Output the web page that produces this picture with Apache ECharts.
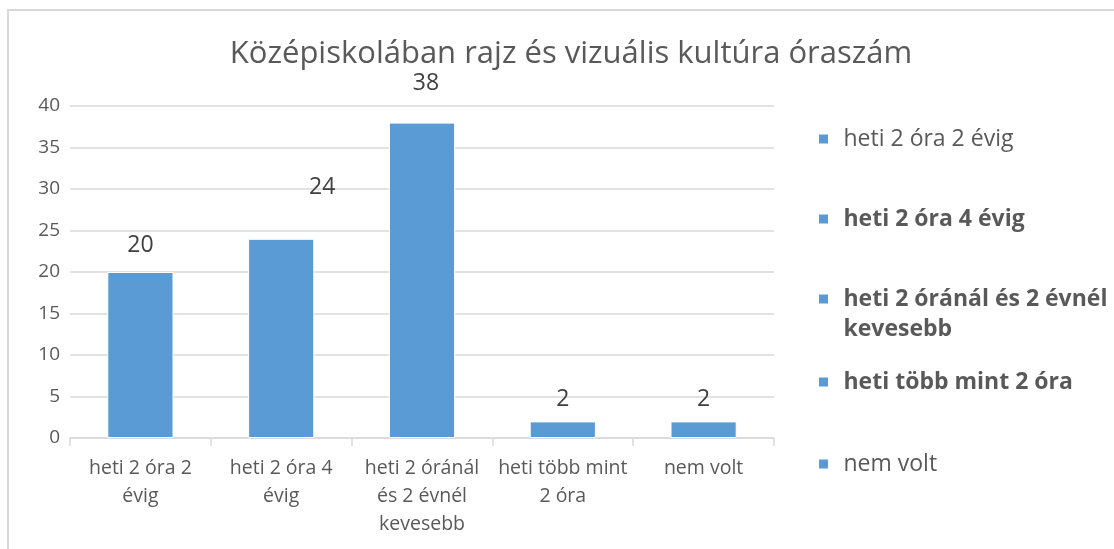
<!DOCTYPE html>
<html>
<head>
<meta charset="utf-8">
<script src="https://cdn.jsdelivr.net/npm/echarts@6/dist/echarts.min.js"></script>
<style>
  html, body { margin: 0; padding: 0; background: #fff; }
  #chart { width: 1114px; height: 549px; }
</style>
</head>
<body>
<div id="chart"></div>
<script>
// Category names (legend) and their wrapped axis tick labels
const categories = [
  'heti 2 óra 2 évig',
  'heti 2 óra 4 évig',
  'heti 2 óránál és 2 évnél kevesebb',
  'heti több mint 2 óra',
  'nem volt'
];
const tickLabels = [
  'heti 2 óra 2\névig',
  'heti 2 óra 4\névig',
  'heti 2 óránál\nés 2 évnél\nkevesebb',
  'heti több mint\n2 óra',
  'nem volt'
];
// leading blank line keeps the marker beside the first line of a wrapped entry
const legendLabels = [
  'heti 2 óra 2 évig',
  'heti 2 óra 4 évig',
  '\nheti 2 óránál és 2 évnél\nkevesebb',
  'heti több mint 2 óra',
  'nem volt'
];
const values = [20, 24, 38, 2, 2];
const yTicks = [0, 5, 10, 15, 20, 25, 30, 35, 40];

const BAR = '#5B9BD5';
const TEXT = '#595959';
const FONT = '"Open Sans", "DejaVu Sans", sans-serif';

// hand-placed data label nudges [dx, dy]
const labelOffsets = [[0, -10], [41, -35], [4, -23], [0, -5], [0, -5]];
const legendRows = [139, 219, 299, 382, 464];
const legendBold = [false, true, true, true, false];

const series = categories.map((name, i) => ({
  name: name,
  type: 'bar',
  stack: 'all',
  barWidth: '47%',
  itemStyle: { color: BAR, borderColor: '#ffffff', borderWidth: 1 },
  label: {
    show: true,
    position: 'top',
    distance: 5,
    offset: labelOffsets[i],
    color: '#404040',
    fontSize: 23,
    fontFamily: FONT
  },
  data: values.map((v, j) => (j === i ? v : '-'))
}));

// square marker centred in a wider slot to leave room before the text
const legends = categories.map((name, i) => ({
  data: [name],
  orient: 'vertical',
  left: 812,
  top: legendRows[i] - (i === 2 ? 50 : 20),
  itemWidth: 30,
  itemHeight: 11,
  icon: 'path://M0,0H10V10H0Z',
  symbolKeepAspect: true,
  itemGap: 0,
  selectedMode: false,
  formatter: () => legendLabels[i],
  textStyle: {
    color: TEXT,
    fontSize: 23,
    fontFamily: FONT,
    fontWeight: legendBold[i] ? 'bold' : 'normal',
    lineHeight: 30
  }
}));

const chart = echarts.init(document.getElementById('chart'), null, { renderer: 'canvas' });
chart.setOption({
  backgroundColor: '#ffffff',
  animation: false,
  title: {
    text: 'Középiskolában rajz és vizuális kultúra óraszám',
    left: 566,
    textAlign: 'center',
    top: 34,
    textStyle: { color: TEXT, fontSize: 31, fontWeight: 'normal', fontFamily: FONT }
  },
  graphic: [{
    type: 'rect',
    shape: { x: 8, y: 10, width: 1200, height: 600 },
    style: { fill: 'none', stroke: '#D9D9D9', lineWidth: 2 },
    silent: true,
    z: -1
  }],
  legend: legends,
  grid: { left: 70, right: 340, top: 106, bottom: 111, containLabel: false },
  xAxis: {
    type: 'category',
    data: tickLabels,
    axisLine: { show: true, lineStyle: { color: '#D9D9D9', width: 1.5 } },
    axisTick: { show: true, length: 8, lineStyle: { color: '#D9D9D9', width: 1.5 } },
    axisLabel: {
      color: TEXT, fontSize: 19.5, fontFamily: FONT,
      lineHeight: 28, margin: 16, interval: 0
    }
  },
  yAxis: {
    type: 'value',
    min: yTicks[0],
    max: yTicks[yTicks.length - 1],
    interval: yTicks[1] - yTicks[0],
    axisLine: { show: false },
    axisTick: { show: false },
    splitLine: { lineStyle: { color: '#D9D9D9', width: 1.5 } },
    axisLabel: { color: TEXT, fontSize: 19, fontFamily: FONT, margin: 10 }
  },
  series: series
});
</script>
</body>
</html>
